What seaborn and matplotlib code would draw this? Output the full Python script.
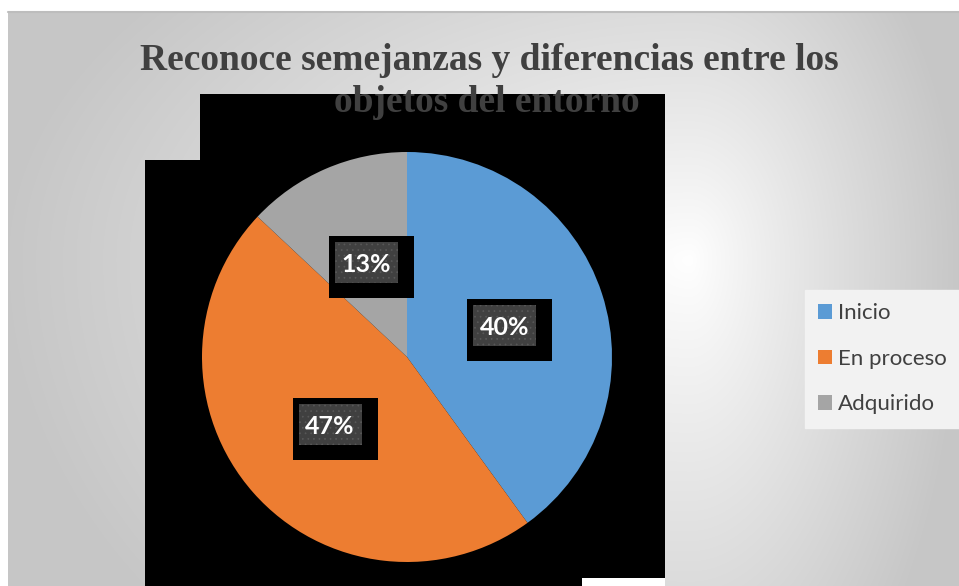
import numpy as np
import matplotlib
matplotlib.use("Agg")
import matplotlib.pyplot as plt
import seaborn as sns
from matplotlib.patches import Rectangle

# chart data
categories = ['Inicio', 'En proceso', 'Adquirido']
percentages = [40, 47, 13]
colors = ['#5b9bd5', '#ed7d31', '#a5a5a5']
title_lines = ['Reconoce semejanzas y diferencias entre los', 'objetos del entorno']

sns.set_theme(style='white')
plt.rcParams['font.family'] = ['Lato', 'DejaVu Sans']
plt.rcParams['hatch.linewidth'] = 0.5
palette = sns.color_palette(colors)

W, H = 959, 586
fig = plt.figure(figsize=(W / 100, H / 100), dpi=100)

# background with gradient
bg = fig.add_axes([0, 0, 1, 1])
yy, xx = np.mgrid[0:H, 0:W] + 0.5
cx, cy = 690, 260
left, right, top, bottom = 8, W, 12, H
nx = np.where(xx < cx, (cx - xx) / (cx - left), (xx - cx) / (right - cx))
ny = np.where(yy < cy, (cy - yy) / (cy - top), (yy - cy) / (bottom - cy))
t = np.clip(np.hypot(nx, 0.6 * ny), 0, 1)
val = 1.0 - 0.22 * t ** 0.9
val[(yy < top) | (xx < left)] = 1.0
img = np.dstack([val, val, val])
bg.imshow(img, extent=(0, W, H, 0), interpolation='bilinear', aspect='auto')
bg.plot([left, W], [top, top], color='#bdbdbd', lw=1.5)
bg.set_xlim(0, W)
bg.set_ylim(H, 0)
bg.axis('off')

# black render blocks behind the pie
bg.add_patch(Rectangle((200, 94), 465, 484, color='black', lw=0))
bg.add_patch(Rectangle((145, 160), 520, 418, color='black', lw=0))
bg.add_patch(Rectangle((145, 578), 437, 8, color='black', lw=0))
bg.add_patch(Rectangle((582, 578), 83, 8, color='white', lw=0))

# pie
r, pcx, pcy = 205, 407, 357
ax = fig.add_axes([(pcx - r) / W, (H - pcy - r) / H, 2 * r / W, 2 * r / H])
wedges, texts, autotexts = ax.pie(percentages, colors=palette, startangle=90,
                                  counterclock=False, autopct='%1.0f%%',
                                  pctdistance=0.5, radius=1,
                                  wedgeprops=dict(linewidth=0))
ax.set_xlim(-1, 1)
ax.set_ylim(-1, 1)
ax.set_aspect('auto')

# data labels in boxes
for at in autotexts:
    px, py = ax.transData.transform(at.get_position())
    at.set_visible(False)
    fig.add_artist(Rectangle(((px - 37.5) / W, (py - 35.5) / H), 85 / W, 62 / H,
                             transform=fig.transFigure, color='black', lw=0, zorder=2))
    fig.add_artist(Rectangle(((px - 31.5) / W, (py - 20.5) / H), 63 / W, 41 / H,
                             transform=fig.transFigure, facecolor='#404040',
                             edgecolor='#585858', hatch='...', lw=0, zorder=2.5))
    fig.text(px / W, py / H, at.get_text(), ha='center', va='center_baseline',
             color='white', fontsize=18, fontweight='bold', zorder=3)

# title
fig.text(489 / W, 1 - 70 / H, title_lines[0], ha='center', va='baseline',
         fontsize=27, fontweight='bold', family='Liberation Serif', color='#404040')
fig.text(487 / W, 1 - 112 / H, title_lines[1], ha='center', va='baseline',
         fontsize=27, fontweight='bold', family='Liberation Serif', color='#404040')

# legend
leg = fig.legend(wedges, categories, loc='upper left',
                 bbox_to_anchor=(805 / W, 1 - 290 / H), frameon=True,
                 facecolor='#f2f2f2', edgecolor='#f2f2f2', framealpha=1,
                 fancybox=False, prop={'family': 'Lato', 'size': 16},
                 handlelength=0.62, handleheight=0.62, handletextpad=0.25,
                 labelspacing=1.15, borderpad=0.6, borderaxespad=0,
                 labelcolor='#404040')

fig.savefig('out.png', dpi=100)
